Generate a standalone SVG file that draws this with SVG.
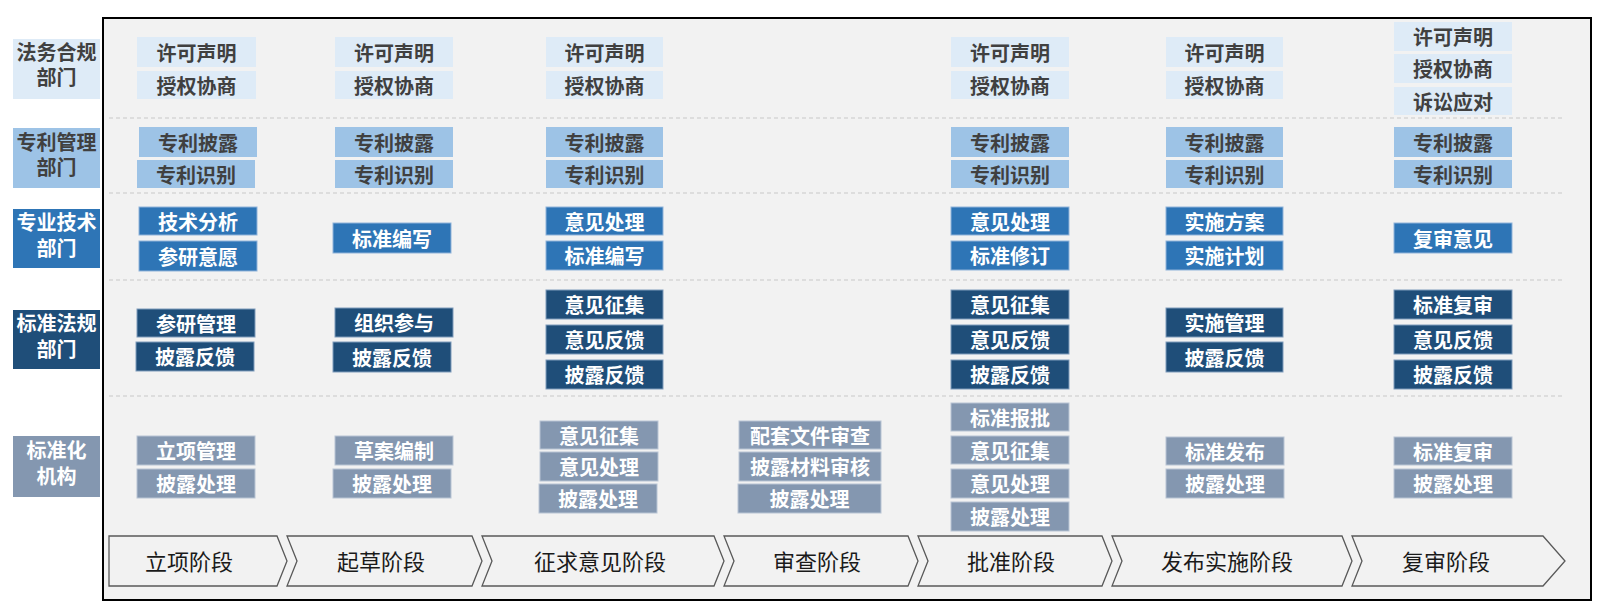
<svg xmlns="http://www.w3.org/2000/svg" width="1600" height="606" viewBox="0 0 1600 606">
<style>
text{font-family:"Noto Sans CJK SC","Microsoft YaHei",sans-serif;text-anchor:middle;dominant-baseline:central}
.b{font-weight:bold;font-size:20px}
.dk{fill:#404040}
.wt{fill:#ffffff}
.s{font-size:22px;fill:#1a1a1a}
.r1{fill:#DEEBF7}
.r2{fill:#9DC3E6}
.r3{fill:#2E75B6;stroke:#8fb3d9;stroke-width:1}
.r4{fill:#1F4E79;stroke:#7f9bbb;stroke-width:1}
.r5{fill:#8497B0;stroke:#b8c4d4;stroke-width:1}
.sep{stroke:#c8c8c8;stroke-width:1.2;stroke-dasharray:4 3;fill:none}
.chev{fill:#f2f2f2;stroke:#595959;stroke-width:1.3}
</style>
<rect x="0" y="0" width="1600" height="606" fill="#ffffff"/>
<rect id="frame" x="103" y="18" width="1488" height="582" fill="#f2f2f2" stroke="#000" stroke-width="2"/>
<g id="separators">
<line class="sep" x1="109" y1="118" x2="1563" y2="118"/>
<line class="sep" x1="109" y1="193" x2="1563" y2="193"/>
<line class="sep" x1="109" y1="280" x2="1563" y2="280"/>
<line class="sep" x1="109" y1="396" x2="1563" y2="396"/>
</g>
<g id="dept-labels">
<g id="lab-legal"><rect class="r1" x="13" y="39" width="87" height="60"/><text class="b dk" x="56.5" y="51">法务合规</text><text class="b dk" x="56.5" y="76">部门</text></g>
<g id="lab-patent"><rect class="r2" x="13" y="128" width="87" height="60"/><text class="b dk" x="56.5" y="141">专利管理</text><text class="b dk" x="56.5" y="166">部门</text></g>
<g id="lab-tech"><rect fill="#2E75B6" x="13" y="209" width="87" height="59"/><text class="b wt" x="56.5" y="221">专业技术</text><text class="b wt" x="56.5" y="247">部门</text></g>
<g id="lab-std"><rect fill="#1F4E79" x="13" y="310" width="87" height="59"/><text class="b wt" x="56.5" y="322">标准法规</text><text class="b wt" x="56.5" y="348">部门</text></g>
<g id="lab-org"><rect fill="#8497B0" x="13" y="436" width="87" height="61"/><text class="b wt" x="56.5" y="449">标准化</text><text class="b wt" x="56.5" y="475">机构</text></g>
</g>
<g id="row-legal">
<g id="n-c1-r1a"><rect class="r1" x="137" y="37" width="119" height="30"/><text class="b dk" x="196.5" y="52">许可声明</text></g>
<g id="n-c1-r1b"><rect class="r1" x="137" y="71" width="119" height="28"/><text class="b dk" x="196.5" y="85">授权协商</text></g>
<g id="n-c2-r1a"><rect class="r1" x="335" y="37" width="118" height="30"/><text class="b dk" x="394" y="52">许可声明</text></g>
<g id="n-c2-r1b"><rect class="r1" x="335" y="71" width="118" height="28"/><text class="b dk" x="394" y="85">授权协商</text></g>
<g id="n-c3-r1a"><rect class="r1" x="546" y="37" width="117" height="30"/><text class="b dk" x="604.5" y="52">许可声明</text></g>
<g id="n-c3-r1b"><rect class="r1" x="546" y="71" width="117" height="28"/><text class="b dk" x="604.5" y="85">授权协商</text></g>
<g id="n-c5-r1a"><rect class="r1" x="951" y="37" width="118" height="30"/><text class="b dk" x="1010" y="52">许可声明</text></g>
<g id="n-c5-r1b"><rect class="r1" x="951" y="71" width="118" height="28"/><text class="b dk" x="1010" y="85">授权协商</text></g>
<g id="n-c6-r1a"><rect class="r1" x="1166" y="37" width="117" height="30"/><text class="b dk" x="1224.5" y="52">许可声明</text></g>
<g id="n-c6-r1b"><rect class="r1" x="1166" y="71" width="117" height="28"/><text class="b dk" x="1224.5" y="85">授权协商</text></g>
<g id="n-c7-r1a"><rect class="r1" x="1394" y="22" width="118" height="29"/><text class="b dk" x="1453" y="36.5">许可声明</text></g>
<g id="n-c7-r1b"><rect class="r1" x="1394" y="54" width="118" height="29"/><text class="b dk" x="1453" y="68.5">授权协商</text></g>
<g id="n-c7-r1c"><rect class="r1" x="1394" y="87" width="118" height="28"/><text class="b dk" x="1453" y="101">诉讼应对</text></g>
</g>
<g id="row-patent">
<g id="n-c1-r2a"><rect class="r2" x="139" y="127" width="118" height="30"/><text class="b dk" x="198" y="142">专利披露</text></g>
<g id="n-c1-r2b"><rect class="r2" x="137" y="160" width="118" height="28"/><text class="b dk" x="196" y="174">专利识别</text></g>
<g id="n-c2-r2a"><rect class="r2" x="335" y="127" width="118" height="30"/><text class="b dk" x="394" y="142">专利披露</text></g>
<g id="n-c2-r2b"><rect class="r2" x="335" y="160" width="118" height="28"/><text class="b dk" x="394" y="174">专利识别</text></g>
<g id="n-c3-r2a"><rect class="r2" x="546" y="127" width="117" height="30"/><text class="b dk" x="604.5" y="142">专利披露</text></g>
<g id="n-c3-r2b"><rect class="r2" x="546" y="160" width="117" height="28"/><text class="b dk" x="604.5" y="174">专利识别</text></g>
<g id="n-c5-r2a"><rect class="r2" x="951" y="127" width="118" height="30"/><text class="b dk" x="1010" y="142">专利披露</text></g>
<g id="n-c5-r2b"><rect class="r2" x="951" y="160" width="118" height="28"/><text class="b dk" x="1010" y="174">专利识别</text></g>
<g id="n-c6-r2a"><rect class="r2" x="1166" y="127" width="117" height="30"/><text class="b dk" x="1224.5" y="142">专利披露</text></g>
<g id="n-c6-r2b"><rect class="r2" x="1166" y="160" width="117" height="28"/><text class="b dk" x="1224.5" y="174">专利识别</text></g>
<g id="n-c7-r2a"><rect class="r2" x="1394" y="127" width="118" height="30"/><text class="b dk" x="1453" y="142">专利披露</text></g>
<g id="n-c7-r2b"><rect class="r2" x="1394" y="160" width="118" height="28"/><text class="b dk" x="1453" y="174">专利识别</text></g>
</g>
<g id="row-tech">
<g id="n-c1-r3a"><rect class="r3" x="139" y="207" width="118" height="28"/><text class="b wt" x="198" y="221">技术分析</text></g>
<g id="n-c1-r3b"><rect class="r3" x="139" y="241" width="118" height="30"/><text class="b wt" x="198" y="256">参研意愿</text></g>
<g id="n-c2-r3a"><rect class="r3" x="333" y="223" width="118" height="30"/><text class="b wt" x="392" y="238">标准编写</text></g>
<g id="n-c3-r3a"><rect class="r3" x="546" y="207" width="117" height="28"/><text class="b wt" x="604.5" y="221">意见处理</text></g>
<g id="n-c3-r3b"><rect class="r3" x="546" y="241" width="117" height="29"/><text class="b wt" x="604.5" y="255.5">标准编写</text></g>
<g id="n-c5-r3a"><rect class="r3" x="951" y="207" width="118" height="28"/><text class="b wt" x="1010" y="221">意见处理</text></g>
<g id="n-c5-r3b"><rect class="r3" x="951" y="241" width="118" height="29"/><text class="b wt" x="1010" y="255.5">标准修订</text></g>
<g id="n-c6-r3a"><rect class="r3" x="1166" y="207" width="117" height="28"/><text class="b wt" x="1224.5" y="221">实施方案</text></g>
<g id="n-c6-r3b"><rect class="r3" x="1166" y="241" width="117" height="29"/><text class="b wt" x="1224.5" y="255.5">实施计划</text></g>
<g id="n-c7-r3a"><rect class="r3" x="1394" y="223" width="118" height="30"/><text class="b wt" x="1453" y="238">复审意见</text></g>
</g>
<g id="row-std">
<g id="n-c1-r4a"><rect class="r4" x="137" y="309" width="118" height="28"/><text class="b wt" x="196" y="323">参研管理</text></g>
<g id="n-c1-r4b"><rect class="r4" x="136" y="342" width="118" height="29"/><text class="b wt" x="195" y="356.5">披露反馈</text></g>
<g id="n-c2-r4a"><rect class="r4" x="335" y="308" width="118" height="29"/><text class="b wt" x="394" y="322.5">组织参与</text></g>
<g id="n-c2-r4b"><rect class="r4" x="333" y="342" width="118" height="30"/><text class="b wt" x="392" y="357">披露反馈</text></g>
<g id="n-c3-r4a"><rect class="r4" x="546" y="290" width="117" height="29"/><text class="b wt" x="604.5" y="304.5">意见征集</text></g>
<g id="n-c3-r4b"><rect class="r4" x="546" y="325" width="117" height="29"/><text class="b wt" x="604.5" y="339.5">意见反馈</text></g>
<g id="n-c3-r4c"><rect class="r4" x="546" y="360" width="117" height="29"/><text class="b wt" x="604.5" y="374.5">披露反馈</text></g>
<g id="n-c5-r4a"><rect class="r4" x="951" y="290" width="118" height="29"/><text class="b wt" x="1010" y="304.5">意见征集</text></g>
<g id="n-c5-r4b"><rect class="r4" x="951" y="325" width="118" height="29"/><text class="b wt" x="1010" y="339.5">意见反馈</text></g>
<g id="n-c5-r4c"><rect class="r4" x="951" y="360" width="118" height="29"/><text class="b wt" x="1010" y="374.5">披露反馈</text></g>
<g id="n-c6-r4a"><rect class="r4" x="1166" y="308" width="117" height="29"/><text class="b wt" x="1224.5" y="322.5">实施管理</text></g>
<g id="n-c6-r4b"><rect class="r4" x="1166" y="342" width="117" height="30"/><text class="b wt" x="1224.5" y="357">披露反馈</text></g>
<g id="n-c7-r4a"><rect class="r4" x="1394" y="290" width="118" height="29"/><text class="b wt" x="1453" y="304.5">标准复审</text></g>
<g id="n-c7-r4b"><rect class="r4" x="1394" y="325" width="118" height="29"/><text class="b wt" x="1453" y="339.5">意见反馈</text></g>
<g id="n-c7-r4c"><rect class="r4" x="1394" y="360" width="118" height="29"/><text class="b wt" x="1453" y="374.5">披露反馈</text></g>
</g>
<g id="row-org">
<g id="n-c1-r5a"><rect class="r5" x="137" y="436" width="118" height="29"/><text class="b wt" x="196" y="450.5">立项管理</text></g>
<g id="n-c1-r5b"><rect class="r5" x="137" y="469" width="118" height="29"/><text class="b wt" x="196" y="483.5">披露处理</text></g>
<g id="n-c2-r5a"><rect class="r5" x="335" y="436" width="118" height="29"/><text class="b wt" x="394" y="450.5">草案编制</text></g>
<g id="n-c2-r5b"><rect class="r5" x="333" y="469" width="118" height="29"/><text class="b wt" x="392" y="483.5">披露处理</text></g>
<g id="n-c3-r5a"><rect class="r5" x="540" y="421" width="118" height="28"/><text class="b wt" x="599" y="435">意见征集</text></g>
<g id="n-c3-r5b"><rect class="r5" x="540" y="452" width="118" height="29"/><text class="b wt" x="599" y="466.5">意见处理</text></g>
<g id="n-c3-r5c"><rect class="r5" x="539" y="484" width="118" height="29"/><text class="b wt" x="598" y="498.5">披露处理</text></g>
<g id="n-c4-r5a"><rect class="r5" x="739" y="421" width="142" height="28"/><text class="b wt" x="810" y="435">配套文件审查</text></g>
<g id="n-c4-r5b"><rect class="r5" x="739" y="452" width="142" height="29"/><text class="b wt" x="810" y="466.5">披露材料审核</text></g>
<g id="n-c4-r5c"><rect class="r5" x="738" y="484" width="143" height="29"/><text class="b wt" x="809.5" y="498.5">披露处理</text></g>
<g id="n-c5-r5a"><rect class="r5" x="951" y="403" width="118" height="28"/><text class="b wt" x="1010" y="417">标准报批</text></g>
<g id="n-c5-r5b"><rect class="r5" x="951" y="436" width="118" height="28"/><text class="b wt" x="1010" y="450">意见征集</text></g>
<g id="n-c5-r5c"><rect class="r5" x="951" y="469" width="118" height="29"/><text class="b wt" x="1010" y="483.5">意见处理</text></g>
<g id="n-c5-r5d"><rect class="r5" x="951" y="502" width="118" height="29"/><text class="b wt" x="1010" y="516.5">披露处理</text></g>
<g id="n-c6-r5a"><rect class="r5" x="1166" y="437" width="118" height="28"/><text class="b wt" x="1225" y="451">标准发布</text></g>
<g id="n-c6-r5b"><rect class="r5" x="1166" y="469" width="118" height="29"/><text class="b wt" x="1225" y="483.5">披露处理</text></g>
<g id="n-c7-r5a"><rect class="r5" x="1394" y="437" width="118" height="28"/><text class="b wt" x="1453" y="451">标准复审</text></g>
<g id="n-c7-r5b"><rect class="r5" x="1394" y="469" width="118" height="29"/><text class="b wt" x="1453" y="483.5">披露处理</text></g>
</g>
<g id="stages">
<path class="chev" d="M109,536 H277 L287,561 L277,586 H109 Z"/>
<path class="chev" d="M287,536 H472 L482,561 L472,586 H287 L297,561 Z"/>
<path class="chev" d="M482,536 H714 L724,561 L714,586 H482 L492,561 Z"/>
<path class="chev" d="M724,536 H908 L918,561 L908,586 H724 L734,561 Z"/>
<path class="chev" d="M918,536 H1102 L1112,561 L1102,586 H918 L928,561 Z"/>
<path class="chev" d="M1112,536 H1342 L1352,561 L1342,586 H1112 L1122,561 Z"/>
<path class="chev" d="M1352,536 H1543 L1565,561 L1543,586 H1352 L1362,561 Z"/>
<text class="s" x="189" y="560">立项阶段</text>
<text class="s" x="381" y="560">起草阶段</text>
<text class="s" x="600" y="560">征求意见阶段</text>
<text class="s" x="817" y="560">审查阶段</text>
<text class="s" x="1011" y="560">批准阶段</text>
<text class="s" x="1227" y="560">发布实施阶段</text>
<text class="s" x="1446" y="560">复审阶段</text>
</g>
</svg>
